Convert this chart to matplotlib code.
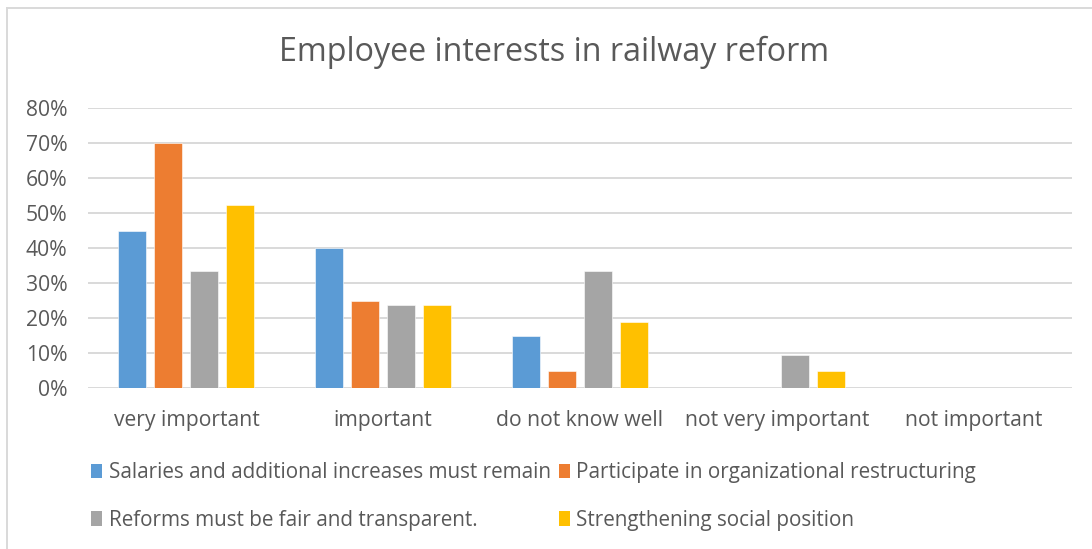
import matplotlib
matplotlib.use("Agg")
import matplotlib.pyplot as plt
from matplotlib.patches import Patch
from matplotlib.lines import Line2D
from matplotlib.ticker import FuncFormatter
import numpy as np

plt.rcParams['font.family'] = ['Open Sans', 'DejaVu Sans']

title = "Employee interests in railway reform"
categories = ["very important", "important", "do not know well",
              "not very important", "not important"]
series_names = [
    "Salaries and additional increases must remain",
    "Participate in organizational restructuring",
    "Reforms must be fair and transparent.",
    "Strengthening social position",
]
salaries = [0.45, 0.40, 0.15, 0.0, 0.0]
restructuring = [0.70, 0.25, 0.05, 0.0, 0.0]
fair_reforms = [0.333, 0.238, 0.333, 0.095, 0.0]
social_position = [0.524, 0.238, 0.19, 0.048, 0.0]
series_values = [salaries, restructuring, fair_reforms, social_position]
colors = ["#5B9BD5", "#ED7D31", "#A5A5A5", "#FFC000"]
y_ticks = [0.0, 0.1, 0.2, 0.3, 0.4, 0.5, 0.6, 0.7, 0.8]

W, H = 1092, 549
fig = plt.figure(figsize=(W / 100, H / 100), dpi=100)
fig.patch.set_facecolor("white")

# plot area in pixel units
left, right, top, bottom = 88, 1072, 108, 388
ax = fig.add_axes([left / W, 1 - bottom / H, (right - left) / W, (bottom - top) / H])

x = np.arange(len(categories))
bar_w = 0.1423
step = 0.1829
for i, (vals, col, name) in enumerate(zip(series_values, colors, series_names)):
    ax.bar(x + (i - 1.5) * step, vals, width=bar_w, color=col,
           edgecolor="white", linewidth=0.4, label=name, zorder=3)

ax.set_xlim(-0.5, len(categories) - 0.5)
ax.set_ylim(0, 0.8)
ax.set_yticks(y_ticks)
ax.yaxis.set_major_formatter(FuncFormatter(lambda v, p: f"{v * 100:.0f}%"))
ax.set_xticks(x)
ax.set_xticklabels(categories)
ax.grid(axis="y", color="#d9d9d9", linewidth=1.4, zorder=0)
ax.set_axisbelow(True)
for s in ax.spines.values():
    s.set_visible(False)
ax.tick_params(axis="both", length=0, colors="#595959", labelsize=15.2)
ax.tick_params(axis="y", pad=15)
ax.tick_params(axis="x", pad=16)

fig.text(554 / W, 1 - 52 / H, title, ha="center", va="center",
         fontsize=23.2, color="#595959")

# outer chart border (top and left edges)
fig.add_artist(Line2D([7 / W, 1.0], [1 - 8 / H, 1 - 8 / H], transform=fig.transFigure,
                      color="#d9d9d9", linewidth=1.4))
fig.add_artist(Line2D([7 / W, 7 / W], [0.0, 1 - 8 / H], transform=fig.transFigure,
                      color="#d9d9d9", linewidth=1.4))

# legend filled row by row
order = [0, 2, 1, 3]
handles = [Patch(facecolor=colors[k], edgecolor="none") for k in order]
labels = [series_names[k] for k in order]
leg = fig.legend(handles, labels, ncol=2, loc="upper left",
                 bbox_to_anchor=(91 / W, 1 - 462 / H), frameon=False,
                 fontsize=14.9, handlelength=0.55, handleheight=0.7,
                 handletextpad=0.3, columnspacing=0.4, labelspacing=1.3,
                 borderaxespad=0, borderpad=0)
for t in leg.get_texts():
    t.set_color("#595959")

fig.savefig("out.png", dpi=100, facecolor="white")
